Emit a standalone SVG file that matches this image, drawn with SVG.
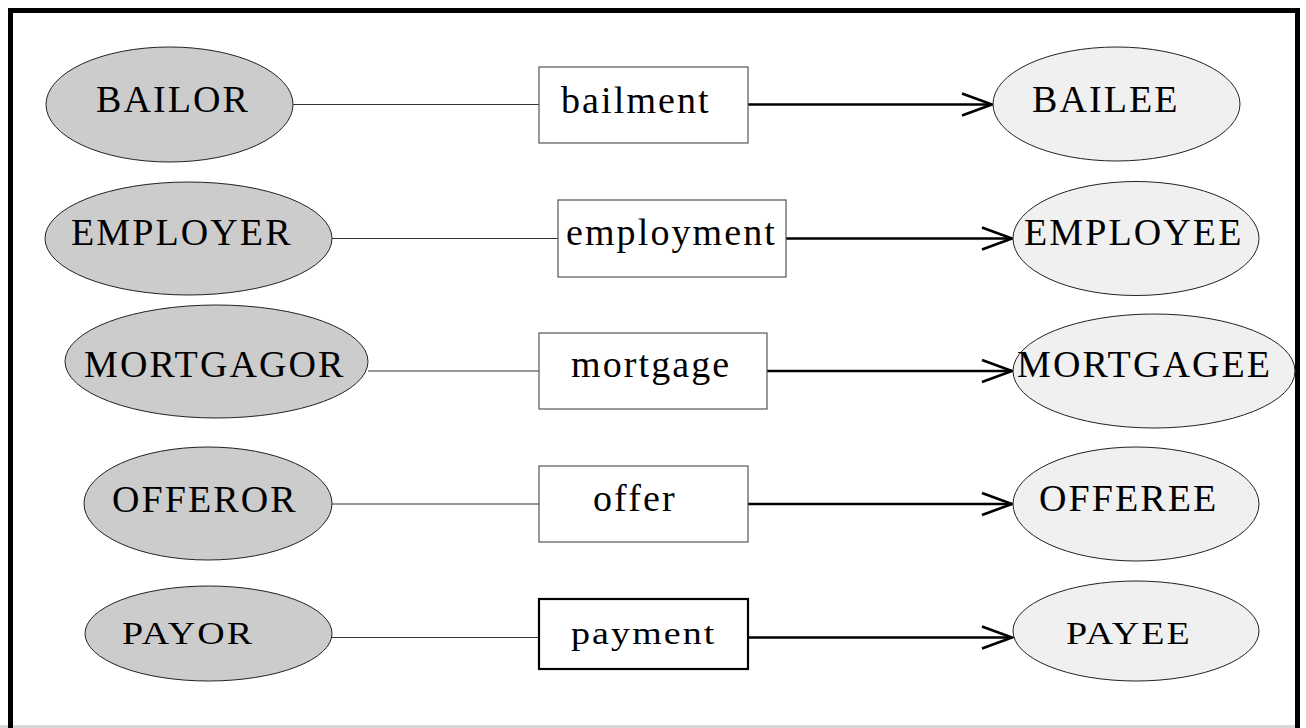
<svg xmlns="http://www.w3.org/2000/svg" width="1306" height="728" viewBox="0 0 1306 728">
<style>
.bg{fill:#ffffff}
.frame{fill:none;stroke:#000;stroke-width:5}
.from{fill:#cccccc;stroke:#222;stroke-width:1}
.to{fill:#f0f0f0;stroke:#222;stroke-width:1}
.box{fill:#fff;stroke:#555;stroke-width:1.2}
.boxb{fill:#fff;stroke:#000;stroke-width:2.2}
text{font-family:"Liberation Serif","Times New Roman",serif;font-size:38px;letter-spacing:2.1px;fill:#000}
.thin{stroke:#333;stroke-width:1;fill:none}
.thick{stroke:#000;stroke-width:2.4;fill:none;marker-end:url(#arr)}
</style>
<defs>
<marker id="arr" markerUnits="userSpaceOnUse" markerWidth="40" markerHeight="30" viewBox="-34 -15 40 30" refX="0" refY="0" orient="auto" overflow="visible">
<path d="M-30,-11 L0,0 L-30,11" fill="none" stroke="#000" stroke-width="2.6" stroke-linejoin="miter"/>
</marker>
</defs>
<rect class="bg" x="0" y="0" width="1306" height="728"/>
<rect x="0" y="725" width="1300" height="3" fill="#d9d9d9"/>
<path class="frame" d="M10.5,728 V10.5 H1297.5 V728"/>
<g id="connectors">
<line class="thin" x1="293" y1="104.5" x2="539" y2="104.5"/>
<line class="thick" x1="748" y1="104.5" x2="992" y2="104.5"/>
<line class="thin" x1="332" y1="238.5" x2="558" y2="238.5"/>
<line class="thick" x1="786" y1="238.5" x2="1012" y2="238.5"/>
<line class="thin" x1="368" y1="371" x2="539" y2="371"/>
<line class="thick" x1="767" y1="371" x2="1012" y2="371"/>
<line class="thin" x1="332" y1="504" x2="539" y2="504"/>
<line class="thick" x1="748" y1="504" x2="1012" y2="504"/>
<line class="thin" x1="332" y1="637.5" x2="539" y2="637.5"/>
<line class="thick" x1="748" y1="637.5" x2="1012" y2="637.5"/>
</g>
<g id="bailor"><ellipse class="from" cx="169.5" cy="104.5" rx="123.5" ry="57.5"/><text x="96" y="112">BAILOR</text></g>
<g id="bailment"><rect class="box" x="539" y="67" width="209" height="76"/><text x="561" y="113">bailment</text></g>
<g id="bailee"><ellipse class="to" cx="1116.5" cy="104" rx="123.5" ry="57"/><text x="1032" y="112">BAILEE</text></g>
<g id="employer"><ellipse class="from" cx="188.5" cy="238.5" rx="143.5" ry="56.5"/><text x="71" y="245">EMPLOYER</text></g>
<g id="employment"><rect class="box" x="558" y="200" width="228" height="77"/><text x="566" y="245">employment</text></g>
<g id="employee"><ellipse class="to" cx="1136" cy="238.5" rx="123" ry="57"/><text x="1024" y="245">EMPLOYEE</text></g>
<g id="mortgagor"><ellipse class="from" cx="216.5" cy="361.5" rx="151.5" ry="56.5"/><text x="84" y="377">MORTGAGOR</text></g>
<g id="mortgage"><rect class="box" x="539" y="333" width="228" height="76"/><text x="571" y="377">mortgage</text></g>
<g id="mortgagee"><ellipse class="to" cx="1154" cy="371" rx="141" ry="57"/><text x="1017" y="377">MORTGAGEE</text></g>
<g id="offeror"><ellipse class="from" cx="208" cy="503.5" rx="124" ry="56.5"/><text x="112" y="512">OFFEROR</text></g>
<g id="offer"><rect class="box" x="539" y="466" width="209" height="76"/><text x="593" y="511">offer</text></g>
<g id="offeree"><ellipse class="to" cx="1136" cy="504" rx="123" ry="57"/><text x="1039" y="511">OFFEREE</text></g>
<g id="payor"><ellipse class="from" cx="208.5" cy="633.5" rx="123.5" ry="47.5"/><text transform="translate(122,644) scale(1,0.85)">PAYOR</text></g>
<g id="payment"><rect class="boxb" x="539" y="599" width="209" height="70"/><text transform="translate(571,644) scale(1,0.85)">payment</text></g>
<g id="payee"><ellipse class="to" cx="1136" cy="631" rx="123" ry="50"/><text transform="translate(1066,644) scale(1,0.85)">PAYEE</text></g>
</svg>
